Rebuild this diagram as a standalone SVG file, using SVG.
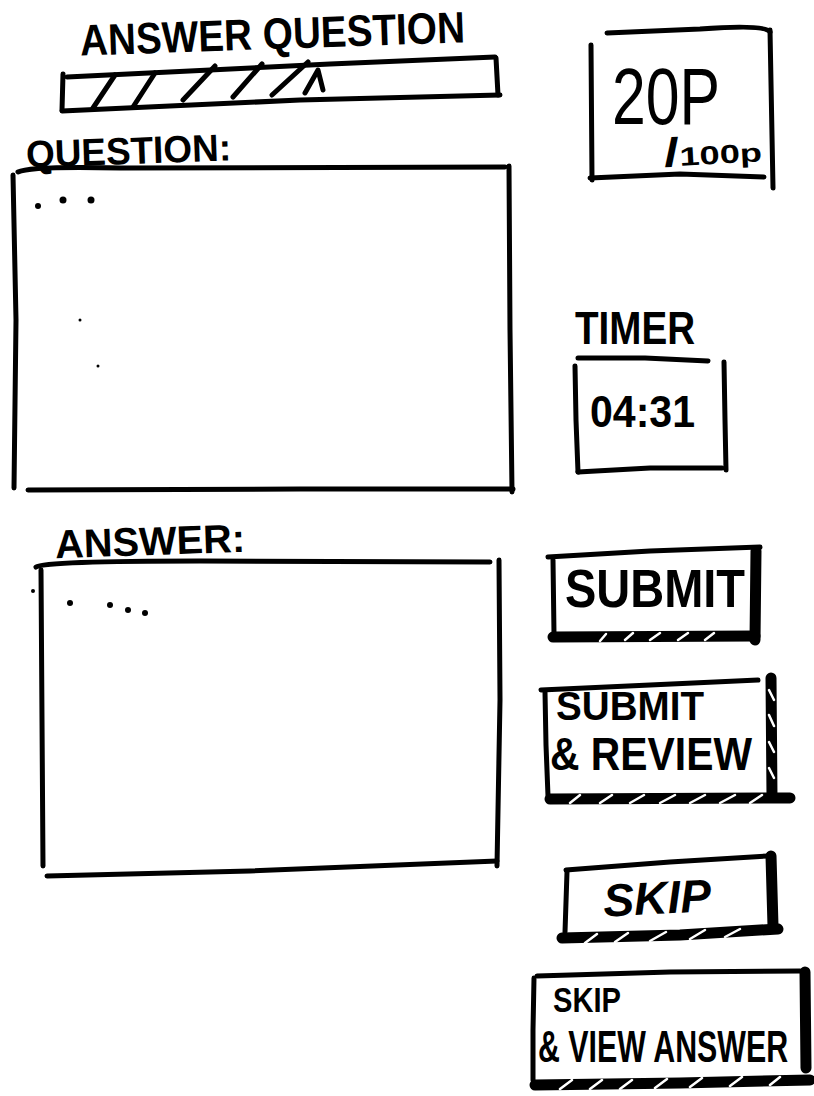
<svg xmlns="http://www.w3.org/2000/svg" width="814" height="1096" viewBox="0 0 814 1096">
<style>
.ln{fill:none;stroke:#000;stroke-width:5;stroke-linecap:round;stroke-linejoin:round}
.thk{fill:none;stroke:#000;stroke-width:11;stroke-linecap:round;stroke-linejoin:round}
.hat{fill:none;stroke:#fff;stroke-width:2.5;stroke-linecap:round}
.t{font-family:"Liberation Sans","DejaVu Sans",sans-serif;font-weight:bold;fill:#000}
.dot{fill:#000}
</style>
<rect width="814" height="1096" fill="#fff"/>

<g id="title">
<text class="t" x="80" y="49" font-size="44" textLength="385" lengthAdjust="spacingAndGlyphs" transform="rotate(-2 270 35)">ANSWER QUESTION</text>
</g>

<g id="progress-bar">
<path class="ln" d="M67 77 L330 64 L495 57"/>
<path class="ln" d="M63 74 L62 110"/>
<path class="ln" d="M62 111 L300 100 L500 95"/>
<path class="ln" d="M496 58 L498 95"/>
<path class="ln" d="M93 108 L115 75 M133 107 L155 73 M183 100 L215 66 M233 97 L262 64 M272 95 L308 62 M305 93 L318 70 L323 90"/>
</g>

<g id="question">
<text class="t" x="26" y="164" font-size="38" textLength="205" lengthAdjust="spacingAndGlyphs" transform="rotate(-2 128 150)">QUESTION:</text>
<path class="ln" d="M18 172 Q30 166 120 168 L505 167"/>
<path class="ln" d="M13 175 L16 320 L14 488"/>
<path class="ln" d="M509 166 L510 330 L512 492"/>
<path class="ln" d="M28 490 L300 489 L513 489"/>
<circle class="dot" cx="38" cy="206" r="3"/>
<circle class="dot" cx="63" cy="200" r="3.5"/>
<circle class="dot" cx="91" cy="200" r="3.5"/>
<circle class="dot" cx="80" cy="320" r="1.5"/>
<circle class="dot" cx="98" cy="366" r="1.5"/>
</g>

<g id="answer">
<text class="t" x="55" y="555" font-size="40" textLength="190" lengthAdjust="spacingAndGlyphs" transform="rotate(-2 150 540)">ANSWER:</text>
<path class="ln" d="M36 567 Q45 561 200 561 L490 562"/>
<path class="ln" d="M41 570 L42 720 L43 866"/>
<path class="ln" d="M499 560 L500 700 L497 866"/>
<path class="ln" d="M47 876 L250 871 L497 861"/>
<circle class="dot" cx="33" cy="591" r="2"/>
<circle class="dot" cx="70" cy="603" r="3"/>
<circle class="dot" cx="110" cy="605" r="3"/>
<circle class="dot" cx="128" cy="610" r="3"/>
<circle class="dot" cx="145" cy="613" r="3"/>
</g>

<g id="points">
<path class="ln" d="M607 33 L700 29 Q765 24 770 32"/>
<path class="ln" d="M591 45 L592 180"/>
<path class="ln" d="M770 30 L773 188"/>
<path class="ln" d="M590 178 L680 174 L764 177"/>
<text class="t" x="612" y="124" font-size="80" textLength="108" lengthAdjust="spacingAndGlyphs" style="font-weight:normal">20P</text>
<text class="t" x="664" y="164" font-size="26" textLength="98" lengthAdjust="spacingAndGlyphs" transform="rotate(-3 712 155)"><tspan font-size="40">/</tspan>100p</text>
</g>

<g id="timer">
<text class="t" x="575" y="344" font-size="46" textLength="120" lengthAdjust="spacingAndGlyphs">TIMER</text>
<path class="ln" d="M578 358 L645 358 L708 361"/>
<path class="ln" d="M575 366 L576 420 L578 472"/>
<path class="ln" d="M724 362 L725 420 L726 470"/>
<path class="ln" d="M578 472 L650 468 L722 468"/>
<text class="t" x="590" y="427" font-size="44" textLength="105" lengthAdjust="spacingAndGlyphs">04:31</text>
</g>

<g id="btn-submit">
<path class="ln" d="M548 557 L650 551 L760 547"/>
<path class="ln" d="M553 560 L554 634"/>
<path class="thk" d="M756 551 L755 640"/>
<path class="thk" d="M553 637 L755 636"/>
<path class="hat" d="M600 641 L606 634 M625 640 L633 633 M650 640 L660 633 M678 640 L688 633 M705 640 L714 633"/>
<text class="t" x="565" y="607" font-size="54" textLength="180" lengthAdjust="spacingAndGlyphs">SUBMIT</text>
</g>

<g id="btn-submit-review">
<path class="ln" d="M541 690 L650 685 L758 680"/>
<path class="ln" d="M545 692 L546 745 L548 796"/>
<path class="thk" d="M771 678 L772 797"/>
<path class="hat" d="M769 690 L774 700 M769 715 L774 726 M769 742 L774 752 M769 768 L774 778"/>
<path class="thk" d="M550 799 L790 798"/>
<path class="hat" d="M570 803 L580 795 M600 803 L612 795 M630 803 L644 795 M660 803 L675 795 M690 803 L705 795 M720 803 L735 795 M750 803 L762 795"/>
<text class="t" x="556" y="720" font-size="40" textLength="148" lengthAdjust="spacingAndGlyphs">SUBMIT</text>
<text class="t" x="550" y="770" font-size="46" textLength="202" lengthAdjust="spacingAndGlyphs">&amp; REVIEW</text>
</g>

<g id="btn-skip">
<path class="ln" d="M566 870 L670 862 L768 856"/>
<path class="ln" d="M567 872 L565 932"/>
<path class="thk" d="M771 856 L773 926"/>
<path class="thk" d="M562 938 L680 935 L778 929"/>
<path class="hat" d="M585 943 L597 934 M615 942 L628 933 M650 941 L666 932 M690 939 L705 930 M725 937 L740 929"/>
<text class="t" x="603" y="914" font-size="46" font-style="italic" textLength="108" lengthAdjust="spacingAndGlyphs" transform="rotate(-3 655 897)">SKIP</text>
</g>

<g id="btn-skip-view">
<path class="ln" d="M537 976 L670 972 L800 971"/>
<path class="ln" d="M534 978 L533 1030 L533 1080"/>
<path class="thk" d="M805 972 L806 1068"/>
<path class="thk" d="M535 1085 L680 1083 L810 1080"/>
<path class="hat" d="M560 1089 L572 1080 M590 1089 L602 1080 M620 1089 L632 1080 M655 1088 L667 1079 M690 1087 L702 1078 M730 1086 L742 1077 M770 1085 L780 1077"/>
<text class="t" x="553" y="1012" font-size="35" textLength="68" lengthAdjust="spacingAndGlyphs">SKIP</text>
<text class="t" x="0" y="0" font-size="44" transform="translate(538 1062) scale(0.69 1)">&amp; VIEW ANSWER</text>
</g>
</svg>
